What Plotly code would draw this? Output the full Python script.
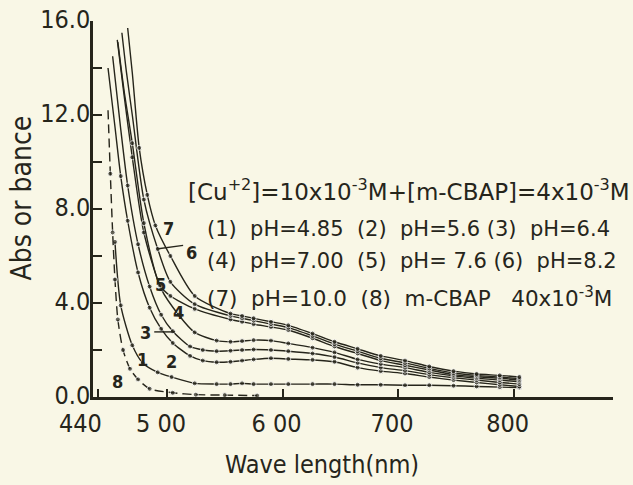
import plotly.graph_objects as go

# ---------------- data ----------------
WAVE_1 = [455, 460, 470, 479, 492, 504, 524, 543, 555, 565, 575, 590, 605, 626, 645, 665, 685, 706, 727, 748, 768, 788, 805]
ABS_1 = [6.6, 3.9, 2.2, 1.45, 1.05, 0.85, 0.58, 0.55, 0.55, 0.58, 0.55, 0.55, 0.55, 0.55, 0.55, 0.52, 0.52, 0.5, 0.5, 0.48, 0.45, 0.42, 0.4]

WAVE_2 = [449, 455, 460, 466, 475, 485, 495, 505, 520, 531, 543, 555, 565, 575, 590, 605, 626, 645, 665, 685, 706, 727, 748, 768, 788, 805]
ABS_2 = [14.0, 11.5, 9.4, 7.5, 5.3, 3.8, 2.9, 2.3, 1.75, 1.55, 1.48, 1.5, 1.55, 1.6, 1.65, 1.62, 1.58, 1.5, 1.25, 1.1, 1.0, 0.85, 0.72, 0.62, 0.52, 0.45]

WAVE_3 = [453, 460, 466, 475, 485, 495, 505, 520, 531, 543, 555, 565, 575, 590, 605, 626, 645, 665, 685, 706, 727, 748, 768, 788, 805]
ABS_3 = [14.5, 11.4, 9.0, 6.5, 4.7, 3.5, 2.8, 2.15, 2.0, 1.95, 1.97, 2.0, 2.02, 2.0, 1.95, 1.85, 1.7, 1.45, 1.25, 1.12, 0.95, 0.82, 0.72, 0.62, 0.55]

WAVE_4 = [457, 463, 470, 480, 495, 510, 524, 543, 555, 565, 575, 590, 605, 626, 645, 665, 685, 706, 727, 748, 768, 788, 805]
ABS_4 = [15.2, 12.8, 10.2, 7.0, 4.6, 3.5, 2.75, 2.4, 2.35, 2.38, 2.42, 2.4, 2.28, 2.1, 1.9, 1.6, 1.4, 1.25, 1.05, 0.9, 0.8, 0.72, 0.65]

WAVE_5 = [457.5, 463, 470, 480, 494, 503, 524, 555, 565, 575, 590, 605, 626, 645, 665, 685, 706, 727, 748, 768, 788, 805]
ABS_5 = [15.1, 13.0, 10.8, 7.4, 4.75, 4.3, 3.75, 3.3, 3.2, 3.1, 2.98, 2.85, 2.5, 2.15, 1.85, 1.55, 1.35, 1.15, 0.95, 0.86, 0.8, 0.72]

WAVE_6 = [461, 465, 470, 480, 492, 503, 524, 555, 565, 575, 590, 605, 626, 645, 665, 685, 706, 727, 748, 768, 788, 805]
ABS_6 = [15.5, 13.8, 12.0, 8.4, 6.3, 4.9, 3.95, 3.45, 3.35, 3.25, 3.1, 2.95, 2.6, 2.25, 1.95, 1.65, 1.45, 1.22, 1.02, 0.92, 0.85, 0.78]

WAVE_7 = [466, 470, 476, 483, 490, 503, 524, 555, 565, 575, 590, 605, 626, 645, 665, 685, 706, 727, 748, 768, 788, 805]
ABS_7 = [15.7, 13.8, 10.6, 8.6, 7.3, 6.0, 4.3, 3.55, 3.45, 3.35, 3.2, 3.05, 2.7, 2.35, 2.05, 1.75, 1.55, 1.3, 1.1, 0.98, 0.92, 0.85]

WAVE_8 = [449, 451, 453, 455, 457.5, 462, 468, 475, 485, 505, 525, 550, 578]
ABS_8 = [12.2, 9.5, 7.0, 5.0, 3.3, 2.0, 1.2, 0.75, 0.35, 0.18, 0.1, 0.08, 0.06]

CURVE_NAMES = ["1", "2", "3", "4", "5", "6", "7", "8"]

X_TICKS = [440, 500, 600, 700, 800]
X_TICK_LABELS = ["440\u2002\u2002", "5 00", "6 00", "700", "800"]
Y_TICKS = [0, 4, 8, 12, 16]
Y_TICK_LABELS = ["0.0", "4.0", "8.0", "12.0", "16.0"]

X_TITLE = "Wave length(nm)"
Y_TITLE = "Abs or bance"
INFO_LINES = [
    "[Cu<sup>+2</sup>]=10x10<sup>-3</sup>M+[m-CBAP]=4x10<sup>-3</sup>M",
    "(1)  pH=4.85  (2)  pH=5.6 (3)  pH=6.4",
    "(4)  pH=7.00  (5)  pH= 7.6 (6)  pH=8.2",
    "(7)  pH=10.0  (8)  m-CBAP   40x10<sup>-3</sup>M",
]

# ---------------- figure ----------------
INK = "#26251b"
BG = "#f9f7e6"
FONT = "DejaVu Sans Condensed, Liberation Sans Narrow, sans-serif"

series = [(WAVE_1, ABS_1), (WAVE_2, ABS_2), (WAVE_3, ABS_3), (WAVE_4, ABS_4),
          (WAVE_5, ABS_5), (WAVE_6, ABS_6), (WAVE_7, ABS_7), (WAVE_8, ABS_8)]

fig = go.Figure()
for name, (wx, ay) in zip(CURVE_NAMES, series):
    dashed = name == "8"
    sizes = [0 if v > 11 else 5 for v in ay]
    fig.add_trace(go.Scatter(
        x=wx, y=ay, name=name, mode="lines+markers",
        line=dict(color=INK, width=1.4, shape="spline", smoothing=0.7,
                  dash="9px,5px" if dashed else "solid"),
        marker=dict(color=INK, size=sizes),
        showlegend=False, hoverinfo="skip",
    ))

# curve number labels
label_pos = {"1": (479, 1.6), "2": (504, 1.5), "3": (481, 2.75), "4": (510, 3.6),
             "5": (494, 4.8), "6": (521, 6.15), "7": (501, 7.15), "8": (457.5, 0.65)}
for name in CURVE_NAMES:
    lx, ly = label_pos[name]
    fig.add_annotation(x=lx, y=ly, text="<b>%s</b>" % name, showarrow=False,
                       font=dict(family=FONT, size=18, color=INK))

# pointer strokes for labels 3 and 6
fig.add_shape(type="line", x0=489, x1=507, y0=2.77, y1=2.77, line=dict(color=INK, width=1.4))
fig.add_shape(type="line", x0=491, x1=514, y0=6.3, y1=6.45, line=dict(color=INK, width=1.4))

# information block
info_y = [0.55, 0.447, 0.362, 0.266]
info_x = [0.178, 0.215, 0.215, 0.215]
info_size = [23, 21, 21, 21.5]
for txt, yy, xx, fs in zip(INFO_LINES, info_y, info_x, info_size):
    fig.add_annotation(xref="paper", yref="paper", x=xx, y=yy, text=txt,
                       showarrow=False, xanchor="left", yanchor="middle",
                       font=dict(family="DejaVu Sans, sans-serif", size=fs, color=INK))

# axis titles
fig.add_annotation(xref="paper", yref="paper", x=0.44, y=-0.18, text=X_TITLE,
                   showarrow=False, xanchor="center", yanchor="middle",
                   font=dict(family=FONT, size=25, color=INK))
fig.add_annotation(xref="paper", yref="paper", x=-0.137, y=0.53, text=Y_TITLE,
                   textangle=-90, showarrow=False, xanchor="center", yanchor="middle",
                   font=dict(family=FONT, size=28, color=INK))

fig.update_layout(
    width=633, height=485,
    margin=dict(l=93, r=20, t=21, b=88),
    paper_bgcolor=BG, plot_bgcolor=BG,
    font=dict(family=FONT, color=INK),
    xaxis=dict(range=[436, 886], showgrid=False, zeroline=False, automargin=False,
               showline=True, linecolor=INK, linewidth=2.5,
               tickmode="array", tickvals=X_TICKS, ticktext=X_TICK_LABELS,
               ticks="inside", ticklen=8, tickwidth=2, tickcolor=INK,
               ticklabelshift=-6, ticklabelstandoff=2,
               tickfont=dict(family=FONT, size=25, color=INK)),
    yaxis=dict(range=[0, 16], showgrid=False, zeroline=False, automargin=False,
               showline=True, linecolor=INK, linewidth=2.5,
               tickmode="array", tickvals=Y_TICKS, ticktext=Y_TICK_LABELS,
               ticks="inside", ticklen=9, tickwidth=2, tickcolor=INK,
               ticklabelshift=-2, ticklabelstandoff=-5,
               minor=dict(dtick=2, tick0=0, ticks="inside", ticklen=9, tickwidth=2, tickcolor=INK),
               tickfont=dict(family=FONT, size=25, color=INK)),
)

fig.write_html(
    "out.html",
    config={"displayModeBar": False},
    post_script="document.body.style.margin='0';document.body.style.background='%s';" % BG,
)
